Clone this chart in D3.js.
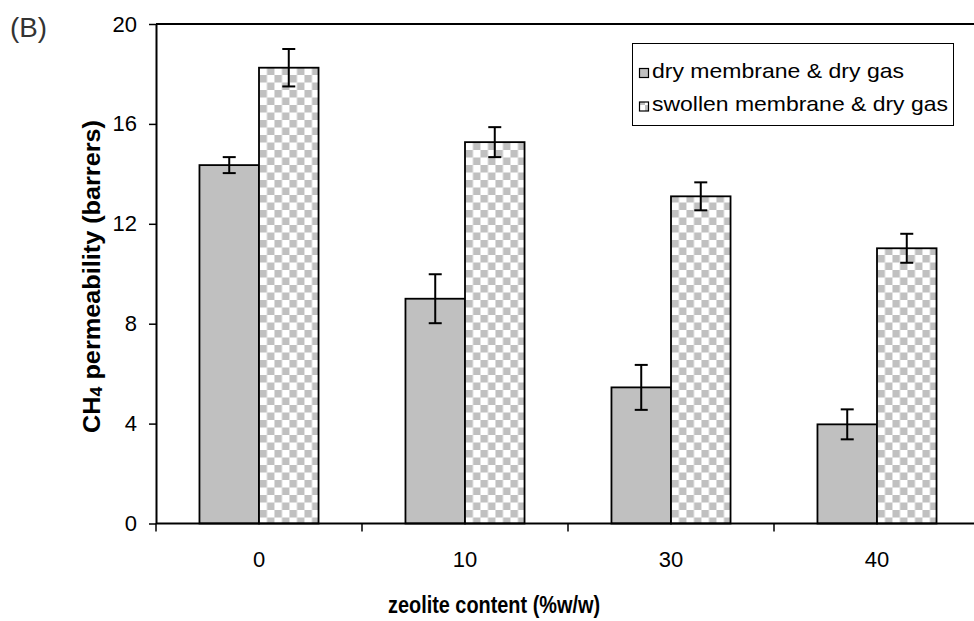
<!DOCTYPE html>
<html>
<head>
<meta charset="utf-8">
<script src="https://cdn.jsdelivr.net/npm/d3@7"></script>
<style>
  body { margin: 0; background: #fff; }
  svg text { font-family: "Liberation Sans", Arial, sans-serif; fill: #000; }
</style>
</head>
<body>
<div id="chart"></div>
<script>
// chart values
var categories = ["0", "10", "30", "40"];
var seriesNames = ["dry membrane & dry gas", "swollen membrane & dry gas"];
var dryValues = [14.35, 9.0, 5.45, 3.97];
var dryErrors = [0.32, 0.98, 0.9, 0.6];
var swollenValues = [18.25, 15.27, 13.1, 11.02];
var swollenErrors = [0.75, 0.6, 0.56, 0.58];
var yTicks = [0, 4, 8, 12, 16, 20];

var W = 974, H = 621;
var plotLeft = 156, plotRight = 980, plotTop = 24, plotBottom = 523.5;

var svg = d3.select("#chart").append("svg")
    .attr("width", W)
    .attr("height", H);

// checkered fill of the swollen bars
var defs = svg.append("defs");
var pat = defs.append("pattern")
    .attr("id", "checker")
    .attr("patternUnits", "userSpaceOnUse")
    .attr("width", 15)
    .attr("height", 15);
pat.append("rect").attr("width", 15).attr("height", 15).attr("fill", "#ffffff");
pat.append("rect").attr("x", 0).attr("y", 0).attr("width", 7.5).attr("height", 7.5).attr("fill", "#c0c0c0");
pat.append("rect").attr("x", 7.5).attr("y", 7.5).attr("width", 7.5).attr("height", 7.5).attr("fill", "#c0c0c0");

var fills = ["#c0c0c0", "url(#checker)"];

// build rows from the arrays
var rows = categories.map(function (c, i) {
    return {
        cat: c,
        bars: [
            { s: 0, v: dryValues[i], e: dryErrors[i] },
            { s: 1, v: swollenValues[i], e: swollenErrors[i] }
        ]
    };
});

var x = d3.scaleBand()
    .domain(categories)
    .range([plotLeft, plotRight])
    .paddingInner(0.422)
    .paddingOuter(0.211);

var xs = d3.scaleBand()
    .domain([0, 1])
    .range([0, x.bandwidth()]);

var y = d3.scaleLinear()
    .domain([0, 20])
    .range([plotBottom, plotTop]);

// top border of plot area
svg.append("line")
    .attr("x1", plotLeft).attr("x2", W)
    .attr("y1", y(20)).attr("y2", y(20))
    .attr("stroke", "#000").attr("stroke-width", 2);

// bars
var groups = svg.selectAll(".grp")
    .data(rows)
    .enter().append("g")
    .attr("class", "grp")
    .attr("transform", function (d) { return "translate(" + x(d.cat) + ",0)"; });

groups.selectAll("rect")
    .data(function (d) { return d.bars; })
    .enter().append("rect")
    .attr("x", function (d) { return xs(d.s); })
    .attr("y", function (d) { return y(d.v); })
    .attr("width", xs.bandwidth())
    .attr("height", function (d) { return y(0) - y(d.v); })
    .attr("fill", function (d) { return fills[d.s]; })
    .attr("stroke", "#000")
    .attr("stroke-width", 1.8);

// error bars
var err = groups.selectAll(".err")
    .data(function (d) { return d.bars; })
    .enter().append("g")
    .attr("class", "err")
    .attr("stroke", "#000")
    .attr("stroke-width", 2);

err.append("line")
    .attr("x1", function (d) { return xs(d.s) + xs.bandwidth() / 2; })
    .attr("x2", function (d) { return xs(d.s) + xs.bandwidth() / 2; })
    .attr("y1", function (d) { return y(d.v + d.e); })
    .attr("y2", function (d) { return y(d.v - d.e); });

[1, -1].forEach(function (sign) {
    err.append("line")
        .attr("x1", function (d) { return xs(d.s) + xs.bandwidth() / 2 - 6.5; })
        .attr("x2", function (d) { return xs(d.s) + xs.bandwidth() / 2 + 6.5; })
        .attr("y1", function (d) { return y(d.v + sign * d.e); })
        .attr("y2", function (d) { return y(d.v + sign * d.e); });
});

// y axis
var yAxis = d3.axisLeft(y)
    .tickValues(yTicks)
    .tickSize(7)
    .tickSizeOuter(0)
    .tickPadding(12);

var gy = svg.append("g")
    .attr("transform", "translate(" + plotLeft + ",0)")
    .call(yAxis);
gy.select(".domain").attr("stroke-width", 2);
gy.selectAll(".tick line").attr("stroke-width", 1.5);
gy.selectAll(".tick text")
    .style("font-size", "22px")
    .attr("fill", "#000");

// x axis: labels centred on groups, ticks between groups
var xAxis = d3.axisBottom(x)
    .tickSize(0)
    .tickSizeOuter(0)
    .tickPadding(28);

var gx = svg.append("g")
    .attr("transform", "translate(0," + y(0) + ")")
    .call(xAxis);
gx.select(".domain").attr("d", "M" + plotLeft + ",0H" + W).attr("stroke-width", 2);
gx.selectAll(".tick text")
    .style("font-size", "22px")
    .attr("fill", "#000");

var bounds = d3.range(categories.length + 1).map(function (i) {
    return x.range()[0] + i * x.step();
});
gx.selectAll(".sep")
    .data(bounds)
    .enter().append("line")
    .attr("class", "sep")
    .attr("x1", function (d) { return d; })
    .attr("x2", function (d) { return d; })
    .attr("y1", 0)
    .attr("y2", 8)
    .attr("stroke", "#000")
    .attr("stroke-width", 1.5);

// axis titles
var yTitle = svg.append("text")
    .attr("transform", "translate(100," + ((120 + 433) / 2) + ") rotate(-90)")
    .attr("text-anchor", "middle")
    .style("font-size", "24px")
    .style("font-weight", "bold")
    .attr("textLength", 313)
    .attr("lengthAdjust", "spacingAndGlyphs");
yTitle.append("tspan").text("CH");
yTitle.append("tspan").attr("dy", 2).style("font-size", "17px").text("4");
yTitle.append("tspan").attr("dy", -2).text(" permeability (barrers)");

svg.append("text")
    .attr("x", 494)
    .attr("y", 613)
    .attr("text-anchor", "middle")
    .style("font-size", "23px")
    .style("font-weight", "bold")
    .attr("textLength", 212)
    .attr("lengthAdjust", "spacingAndGlyphs")
    .text("zeolite content (%w/w)");

svg.append("text")
    .attr("x", 10)
    .attr("y", 37)
    .style("font-size", "28px")
    .style("fill", "#333")
    .attr("textLength", 37)
    .attr("lengthAdjust", "spacingAndGlyphs")
    .text("(B)");

// legend
var legend = svg.append("g");
legend.append("rect")
    .attr("x", 632.5).attr("y", 43.5)
    .attr("width", 321).attr("height", 82)
    .attr("fill", "#fff")
    .attr("stroke", "#000")
    .attr("stroke-width", 1);

var legendY = [68.5, 102];
var legendW = [252, 296];
seriesNames.forEach(function (name, i) {
    legend.append("rect")
        .attr("x", 639.5).attr("y", legendY[i])
        .attr("width", 9).attr("height", 9)
        .attr("fill", fills[i])
        .attr("stroke", "#000")
        .attr("stroke-width", 1.2);
    legend.append("text")
        .attr("x", 652)
        .attr("y", legendY[i] + 9)
        .style("font-size", "21px")
        .attr("textLength", legendW[i])
        .attr("lengthAdjust", "spacingAndGlyphs")
        .text(name);
});
</script>
</body>
</html>
